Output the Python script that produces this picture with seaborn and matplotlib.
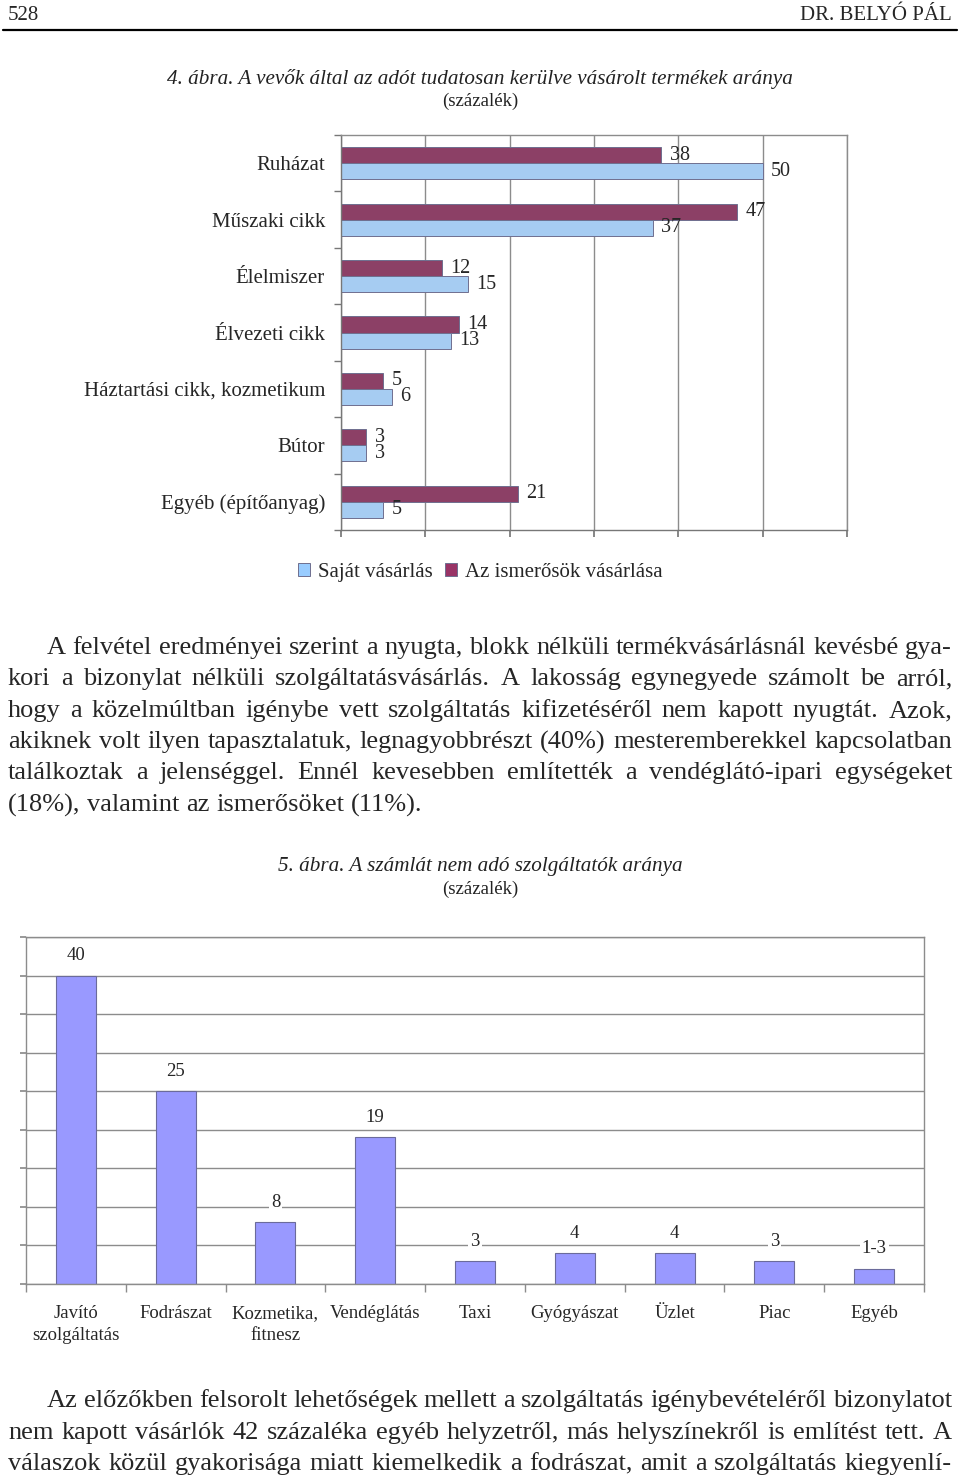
import numpy as np
import pandas as pd
import seaborn as sns
import matplotlib.pyplot as plt
from matplotlib.lines import Line2D
from matplotlib.patches import Patch

# Chart 4 data
categories_4 = ["Ruházat", "Műszaki cikk", "Élelmiszer", "Élvezeti cikk",
                "Háztartási cikk, kozmetikum", "Bútor", "Egyéb (építőanyag)"]
sajat = [50, 37, 15, 13, 6, 3, 5]
ismeros = [38, 47, 12, 14, 5, 3, 21]
series_4 = ["Az ismerősök vásárlása", "Saját vásárlás"]

# Chart 5 data
categories_5 = ["Javító\nszolgáltatás", "Fodrászat", "Kozmetika,\nfitnesz", "Vendéglátás",
                "Taxi", "Gyógyászat", "Üzlet", "Piac", "Egyéb"]
values_5 = [40, 25, 8, 19, 3, 4, 4, 3, 2]
labels_5 = ["40", "25", "8", "19", "3", "4", "4", "3", "1-3"]

para1 = [
    "A felvétel eredményei szerint a nyugta, blokk nélküli termékvásárlásnál kevésbé gya-",
    "kori a bizonylat nélküli szolgáltatásvásárlás. A lakosság egynegyede számolt be arról,",
    "hogy a közelmúltban igénybe vett szolgáltatás kifizetéséről nem kapott nyugtát. Azok,",
    "akiknek volt ilyen tapasztalatuk, legnagyobbrészt (40%) mesteremberekkel kapcsolatban",
    "találkoztak a jelenséggel. Ennél kevesebben említették a vendéglátó-ipari egységeket",
    "(18%), valamint az ismerősöket (11%).",
]
para2 = [
    "Az előzőkben felsorolt lehetőségek mellett a szolgáltatás igénybevételéről bizonylatot",
    "nem kapott vásárlók 42 százaléka egyéb helyzetről, más helyszínekről is említést tett. A",
    "válaszok közül gyakorisága miatt kiemelkedik a fodrászat, amit a szolgáltatás kiegyenlí-",
]

sns.set_theme(style="white")
plt.rcParams['font.family'] = ['Liberation Serif', 'DejaVu Serif']

W, H = 960, 1480
fig = plt.figure(figsize=(9.6, 14.8), dpi=100)
fig.patch.set_facecolor("white")


def fx(px):
    return px / W


def fy(py):
    return 1 - py / H


# header
fig.text(fx(8), fy(15), "528", fontsize=15, ha="left", va="center")
fig.text(fx(952), fy(15), "DR. BELYÓ PÁL", fontsize=15, ha="right", va="center")
fig.add_artist(Line2D([fx(3), fx(957)], [fy(30), fy(30)], color="black", lw=1.6,
                      transform=fig.transFigure))

# captions
fig.text(0.5, fy(79), "4. ábra. A vevők által az adót tudatosan kerülve vásárolt termékek aránya",
         fontsize=15.2, style="italic", ha="center", va="center", color="#222222")
fig.text(0.5, fy(101), "(százalék)", fontsize=13.5, ha="center", va="center", color="#222222")
fig.text(0.5, fy(866), "5. ábra. A számlát nem adó szolgáltatók aránya",
         fontsize=15.2, style="italic", ha="center", va="center", color="#222222")
fig.text(0.5, fy(889), "(százalék)", fontsize=13.5, ha="center", va="center", color="#222222")

grid_col = "#8c8c8c"

# ---- chart 4 (horizontal bars)
df4 = pd.DataFrame({
    "kategoria": categories_4 * 2,
    "ertek": ismeros + sajat,
    "sorozat": [series_4[0]] * len(categories_4) + [series_4[1]] * len(categories_4),
})
ax1 = fig.add_axes([fx(341), fy(530), fx(847) - fx(341), fy(135) - fy(530)])
sns.barplot(data=df4, y="kategoria", x="ertek", hue="sorozat", hue_order=series_4,
            order=categories_4, palette=["#993366", "#99CCFF"], width=0.57,
            edgecolor="#6f6f8f", linewidth=0.7, ax=ax1, legend=False)
ax1.set_xlim(0, 60)
ax1.set_ylim(len(categories_4) - 0.5, -0.5)
ax1.set_xticks(np.arange(0, 61, 10))
ax1.set_xticklabels([])
ax1.grid(axis="x", color=grid_col, lw=1)
ax1.set_axisbelow(True)
for s in ax1.spines.values():
    s.set_color(grid_col)
    s.set_linewidth(1)
ax1.spines["left"].set_color("#777777")
ax1.spines["bottom"].set_color("#777777")
ax1.set_xlabel("")
ax1.set_ylabel("")
ax1.tick_params(axis="y", length=0, pad=11.5, labelsize=15)
ax1.set_yticks(np.arange(-0.5, len(categories_4), 1), minor=True)
ax1.tick_params(axis="y", which="minor", length=5, color="#777777", left=True)
ax1.tick_params(axis="x", length=5, color="#777777", bottom=True)
for cont in ax1.containers:
    ax1.bar_label(cont, fmt="%g", padding=6, fontsize=14.5)

handles = [Patch(facecolor="#99CCFF", edgecolor="#6f6f8f", lw=0.7, label="Saját vásárlás"),
           Patch(facecolor="#993366", edgecolor="#6f6f8f", lw=0.7, label="Az ismerősök vásárlása")]
fig.legend(handles=handles, loc="center", bbox_to_anchor=(fx(480), fy(572)), ncol=2,
           frameon=False, fontsize=15, handlelength=0.6, handleheight=0.6,
           handletextpad=0.35, columnspacing=0.6)

# ---- chart 5 (vertical bars)
df5 = pd.DataFrame({"szolgaltato": categories_5, "arany": values_5})
ax2 = fig.add_axes([fx(26), fy(1284), fx(924) - fx(26), fy(937) - fy(1284)])
sns.barplot(data=df5, x="szolgaltato", y="arany", order=categories_5, color="#9999FF",
            saturation=1, width=0.4, edgecolor="#6b6b9b", linewidth=0.8, ax=ax2)
ax2.set_ylim(0, 45)
ax2.set_xlim(-0.5, len(categories_5) - 0.5)
ax2.set_yticks(np.arange(0, 46, 5))
ax2.set_yticklabels([])
ax2.grid(axis="y", color=grid_col, lw=1)
ax2.set_axisbelow(True)
for s in ax2.spines.values():
    s.set_color(grid_col)
    s.set_linewidth(1)
ax2.set_xlabel("")
ax2.set_ylabel("")
ax2.tick_params(axis="x", length=0, pad=15, labelsize=13.5)
for lbl in ax2.get_xticklabels():
    lbl.set_linespacing(1.4)
ax2.set_xticks(np.arange(-0.5, len(categories_5), 1), minor=True)
ax2.tick_params(axis="x", which="minor", length=6, color=grid_col, bottom=True)
ax2.tick_params(axis="y", length=4, color=grid_col, left=True)
ax2.bar_label(ax2.containers[0], labels=labels_5, padding=8, fontsize=13.5,
              bbox=dict(facecolor="white", edgecolor="none", pad=1.5))

# ---- body text, justified like the page
renderer = fig.canvas.get_renderer()
body_fs = 19


def draw_line(line, y, x0, x1, justify=True):
    words = line.split(" ")
    texts = [fig.text(0, fy(y), w, fontsize=body_fs, ha="left", va="center") for w in words]
    widths = [t.get_window_extent(renderer).width for t in texts]
    if justify and len(words) > 1:
        gap = (x1 - x0 - sum(widths)) / (len(words) - 1)
    else:
        gap = body_fs * 100 / 72 * 0.25
    x = x0
    for t, w in zip(texts, widths):
        t.set_x(fx(x))
        x += w + gap


ys1 = [648, 679, 711, 742, 773, 805]
for i, (line, y) in enumerate(zip(para1, ys1)):
    draw_line(line, y, 47 if i == 0 else 8, 952, justify=i < len(para1) - 1)

ys2 = [1401, 1433, 1464]
for i, (line, y) in enumerate(zip(para2, ys2)):
    draw_line(line, y, 47 if i == 0 else 8, 952, justify=True)

fig.savefig("out.png", dpi=100, facecolor="white")
